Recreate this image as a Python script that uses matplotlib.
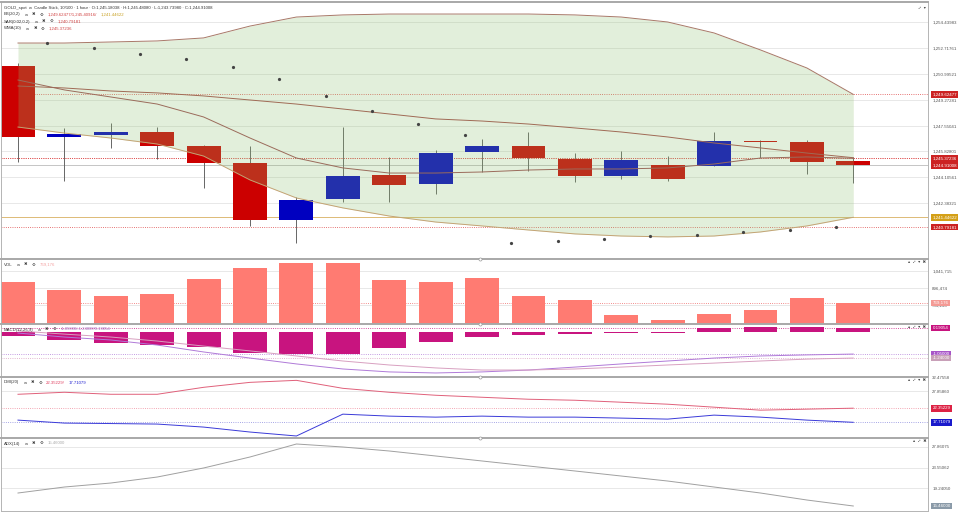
import numpy as np
import matplotlib
matplotlib.use("Agg")
import matplotlib.pyplot as plt
from matplotlib import font_manager, ft2font
from matplotlib.transforms import blended_transform_factory
from matplotlib.offsetbox import TextArea, HPacker, AnchoredOffsetbox
from matplotlib.lines import Line2D

# ---- GOLD spot, 1 hour candles ----
opens  = [1251.51, 1246.79, 1246.92, 1247.14, 1246.21, 1245.08, 1241.27, 1242.64, 1244.26, 1243.64,
          1245.77, 1246.19, 1245.33, 1244.19, 1244.93, 1244.88, 1246.54, 1246.48, 1245.18038]
highs  = [1251.71, 1247.39, 1247.74, 1247.47, 1246.26, 1246.19, 1242.82, 1247.43, 1245.48, 1245.92,
          1246.64, 1247.10, 1245.70, 1245.88, 1245.52, 1247.10, 1246.59, 1246.59, 1245.48080]
lows   = [1245.13, 1243.86, 1246.06, 1245.33, 1243.40, 1240.87, 1239.76, 1242.48, 1242.48, 1243.00,
          1244.48, 1244.55, 1243.81, 1243.97, 1243.86, 1244.86, 1245.37, 1244.33, 1243.73980]
closes = [1246.79, 1246.97, 1247.12, 1246.21, 1245.08, 1241.27, 1242.60, 1244.19, 1243.60, 1245.70,
          1246.19, 1245.37, 1244.17, 1245.24, 1243.97, 1246.54, 1246.44, 1245.14, 1244.91008]

bb_upper = [1253.04, 1253.04, 1253.11, 1253.18, 1253.38, 1254.17, 1254.77, 1254.91, 1254.97, 1254.97,
            1254.97, 1254.97, 1254.91, 1254.77, 1254.44, 1253.71, 1252.58, 1251.38, 1249.62477]
bb_mid   = [1250.18, 1250.05, 1249.85, 1249.72, 1249.52, 1249.25, 1248.98, 1248.65, 1248.32, 1247.99,
            1247.85, 1247.65, 1247.39, 1247.12, 1246.79, 1246.39, 1246.06, 1245.72, 1245.40916]
bb_lower = [1247.45, 1247.05, 1246.72, 1246.32, 1245.52, 1243.93, 1242.73, 1242.07, 1241.53, 1241.13,
            1240.87, 1240.60, 1240.34, 1240.20, 1240.14, 1240.20, 1240.47, 1240.87, 1241.44622]
wma10    = [1250.58, 1249.92, 1249.45, 1248.98, 1248.12, 1246.72, 1245.39, 1244.73, 1244.39, 1244.39,
            1244.46, 1244.59, 1244.66, 1244.66, 1244.73, 1244.99, 1245.39, 1245.46, 1245.37236]
# parabolic SAR, from the 2nd candle on
sar = [1253.04, 1252.71, 1252.31, 1251.98, 1251.45, 1250.65, 1249.52, 1248.52, 1247.65,
       1246.92, 1239.74, 1239.87, 1240.00, 1240.20, 1240.27, 1240.47, 1240.60, 1240.79181]

volume = [947731, 879379, 828115, 845203, 973363, 1067347, 1110067, 1110067, 964819, 947731,
          981907, 828115, 793939, 665779, 623059, 674323, 708499, 811027, 769176]

macd_hist   = [-0.19, -0.38, -0.51, -0.62, -0.70, -1.01, -1.05, -1.05, -0.76, -0.48,
               -0.24, -0.14, -0.10, -0.05, -0.05, 0.19, 0.24, 0.24, 0.19054]
macd_line   = [-0.05, -0.24, -0.38, -0.62, -0.95, -1.24, -1.52, -1.76, -1.90, -1.95,
               -1.90, -1.81, -1.67, -1.52, -1.38, -1.24, -1.14, -1.09, -1.05]
macd_signal = [0.05, -0.10, -0.24, -0.43, -0.67, -0.90, -1.14, -1.38, -1.57, -1.71,
               -1.81, -1.81, -1.76, -1.67, -1.57, -1.48, -1.38, -1.29, -1.24]

dmi_plus  = [26.92, 27.58, 26.92, 26.92, 29.21, 30.84, 31.50, 28.88, 27.58, 26.60,
             25.94, 25.29, 24.96, 24.31, 23.66, 22.68, 21.70, 22.03, 22.35229]
dmi_minus = [18.43, 17.45, 17.30, 17.13, 16.14, 14.51, 13.21, 20.39, 19.74, 19.41,
             19.74, 19.41, 19.41, 19.09, 18.76, 20.07, 19.41, 18.43, 17.71079]
adx = [18.19, 19.45, 20.29, 21.55, 23.45, 25.76, 28.49, 27.86, 27.02, 25.97,
       24.92, 23.87, 22.82, 21.76, 20.71, 19.45, 18.19, 16.72, 15.46]

price_ticks = [1254.43983, 1252.71761, 1250.99521, 1249.27281, 1247.55041, 1245.82801, 1244.10561, 1242.38321]
vol_ticks = [1041715, 896474, 751233]
dmi_ticks = [32.47558, 27.85860]
adx_ticks = [27.86075, 23.55062, 19.24050]


def family_with(ch):
    """first installed family that has a glyph for ch (for the little UI icons)."""
    for f in font_manager.fontManager.ttflist:
        try:
            if ord(ch) in ft2font.FT2Font(f.fname).get_charmap():
                return f.name
        except Exception:
            pass
    return None


EXPAND = "⤢"
extra = family_with(EXPAND)
plt.rcParams["font.family"] = ["Liberation Sans", "DejaVu Sans"] + ([extra] if extra else [])
if extra is None:
    EXPAND = "↗"

BEAR, BULL = "#cc0000", "#0000c0"
TAGRED, GOLD = "#cc2222", "#d4a017"
GRID = "#e4e4e4"
FS_HEAD, FS_AX = 3.1, 3.2
SAR_SHIFT = -0.37

W, H = 959, 521
fig = plt.figure(figsize=(W / 100, H / 100), dpi=100)
x = np.arange(len(opens))
XL = (-0.366, 19.61)


def panel(top_px, bot_px):
    ax = fig.add_axes([1 / W, 1 - bot_px / H, 927 / W, (bot_px - top_px) / H])
    ax.set_xlim(*XL)
    ax.set_xticks([])
    ax.yaxis.tick_right()
    ax.tick_params(axis="y", length=0, labelsize=FS_AX, labelcolor="#555555", pad=3)
    for s in ax.spines.values():
        s.set_color("#b4b4b4"); s.set_linewidth(0.7)
    ax.spines["top"].set_linewidth(1.4); ax.spines["top"].set_color("#a8a8a8")
    ax.grid(axis="y", color=GRID, lw=0.6)
    ax.set_axisbelow(True)
    return ax


def tag(ax, value, text, fc, tc="white"):
    tr = blended_transform_factory(ax.transAxes, ax.transData)
    ax.annotate(text, xy=(1, value), xycoords=tr, xytext=(3.2, 0), textcoords="offset points",
                ha="left", va="center", fontsize=FS_AX, color=tc, annotation_clip=False,
                bbox=dict(boxstyle="square,pad=0.3", fc=fc, ec="none"))


def header(ax, y_px, parts, icons=True):
    ax_h = ax.get_position().height * H
    boxes = []
    for i, (txt, col) in enumerate(parts):
        boxes.append(TextArea(txt, textprops=dict(fontsize=FS_HEAD, color=col)))
        if i == 0 and icons:
            for ic in ["∞", "✖", "⚙"]:
                boxes.append(TextArea(ic, textprops=dict(fontsize=FS_HEAD, color="#333333")))
    pack = HPacker(children=boxes, align="baseline", pad=0, sep=3.0)
    ab = AnchoredOffsetbox(loc="upper left", child=pack, pad=0, borderpad=0, frameon=False,
                           bbox_to_anchor=(3 / 927, 1 - y_px / ax_h), bbox_transform=ax.transAxes)
    ax.add_artist(ab)


def corner_icons(ax, icons):
    ax.text(0.998, 0.985, "  ".join(icons), transform=ax.transAxes, ha="right", va="top",
            fontsize=FS_HEAD, color="#444444")


# ---- main price panel ----
ax = panel(2, 259)
ax.set_ylim(1238.67, 1255.77)
ax.set_yticks(price_ticks)
ax.set_yticklabels([f"{v:,.5f}" for v in price_ticks])
o, h, l, c = map(np.array, (opens, highs, lows, closes))
cols = np.where(c >= o, BULL, BEAR)
ax.vlines(x, l, h, color="#666666", lw=0.7, zorder=2)
ax.bar(x, np.maximum(np.abs(c - o), 0.04), bottom=np.minimum(o, c), width=0.73,
       color=cols, zorder=2.5)
ax.fill_between(x, bb_lower, bb_upper, color="#8fc170", alpha=0.25, lw=0, zorder=3)
ax.plot(x, bb_upper, color="#a87868", lw=0.7, zorder=4)
ax.plot(x, bb_mid, color="#a06a55", lw=0.7, zorder=4)
ax.plot(x, bb_lower, color="#c4a374", lw=0.7, zorder=4)
ax.plot(x, wma10, color="#9b6b5b", lw=0.7, zorder=4)
ax.plot(x[1:] + SAR_SHIFT, sar, ls="none", marker="o", ms=1.3, color="#444444", zorder=5)
for v, col, ls in [(bb_upper[-1], "#dd4444", ":"), (bb_mid[-1], "#dd4444", ":"),
                   (wma10[-1], "#dd4444", ":"), (closes[-1], "#bbbbbb", "-"),
                   (bb_lower[-1], "#d8b060", "-"), (sar[-1], "#dd4444", ":")]:
    ax.axhline(v, color=col, ls=ls, lw=0.6, zorder=1)
tag(ax, bb_upper[-1], f"{bb_upper[-1]:,.5f}", TAGRED)
tag(ax, wma10[-1], f"{wma10[-1]:,.5f}", TAGRED)
tag(ax, closes[-1], f"{closes[-1]:,.5f}", TAGRED)
tag(ax, bb_lower[-1], f"{bb_lower[-1]:,.5f}", GOLD)
tag(ax, sar[-1], f"{sar[-1]:,.5f}", TAGRED)
header(ax, 3.5, [(f"GOLD_spot  ∞  Candle Stick, 10/100 · 1 hour · O:{opens[-1]:,.5f} · "
                  f"H:{highs[-1]:,.5f} · L:{lows[-1]:,.5f} · C:{closes[-1]:,.5f}", "#333333")], icons=False)
header(ax, 10.5, [("BB(20,2)", "#333333"),
                  (f"{bb_upper[-1]:,.5f}/{bb_mid[-1]:,.5f}/", "#d04040"),
                  (f"{bb_lower[-1]:,.5f}", "#c8a020")])
header(ax, 17.5, [("SAR(0.02,0.2)", "#333333"), (f"{sar[-1]:,.5f}", "#d04040")])
header(ax, 24.5, [("WMA(10)", "#333333"), (f"{wma10[-1]:,.5f}", "#d04040")])
corner_icons(ax, [EXPAND, "▾"])

# ---- volume ----
ax = panel(259, 324)
ax.set_ylim(588883, 1144243)
ax.set_yticks(vol_ticks)
ax.set_yticklabels([f"{v:,}" for v in vol_ticks])
ax.bar(x, volume, width=0.73, color="#ff7b72", zorder=2)
ax.axhline(volume[-1], color="#ee6666", ls=":", lw=0.6, zorder=1)
tag(ax, volume[-1], f"{volume[-1]:,}", "#f49a94")
header(ax, 3.5, [("VOL", "#333333"), (f"{volume[-1]:,}", "#f4a0a0")])
corner_icons(ax, ["▴", EXPAND, "▾", "✖"])

# ---- MACD ----
ax = panel(324, 377)
ax.set_ylim(-2.142, 0.381)
ax.set_yticks([])
ax.bar(x, macd_hist, width=0.73, color="#c8147f", zorder=2)
ax.plot(x, macd_line, color="#b07ad8", lw=0.7, zorder=3)
ax.plot(x, macd_signal, color="#d8a0c0", lw=0.7, zorder=3)
ax.axhline(macd_hist[-1], color="#c8147f", ls=":", lw=0.6, zorder=1)
ax.axhline(macd_line[-1], color="#b07ad8", ls=":", lw=0.6, zorder=1)
ax.axhline(macd_signal[-1], color="#d8a0c0", ls=":", lw=0.6, zorder=1)
tag(ax, macd_hist[-1], f"{macd_hist[-1]:.5f}", "#c8147f")
tag(ax, macd_line[-1], f"{macd_line[-1]:.5f}", "#a855c8")
tag(ax, macd_signal[-1], f"{macd_signal[-1]:.5f}", "#c8a0b8")
header(ax, 3.5, [("MACD(12,26,9)", "#333333"),
                 (f"{macd_line[-1]:.5f}/{macd_signal[-1]:.5f}/{macd_hist[-1]:.5f}", "#a070c0")])
corner_icons(ax, ["▴", EXPAND, "▾", "✖"])

# ---- DMI ----
ax = panel(377, 438)
ax.set_ylim(12.55, 32.60)
ax.set_yticks(dmi_ticks)
ax.set_yticklabels([f"{v:.5f}" for v in dmi_ticks])
ax.plot(x, dmi_plus, color="#e0607a", lw=0.7, zorder=3)
ax.plot(x, dmi_minus, color="#3a3ad8", lw=0.7, zorder=3)
ax.axhline(dmi_plus[-1], color="#ee8899", ls=":", lw=0.6, zorder=1)
ax.axhline(dmi_minus[-1], color="#8888dd", ls=":", lw=0.6, zorder=1)
tag(ax, dmi_plus[-1], f"{dmi_plus[-1]:.5f}", "#dd2244")
tag(ax, dmi_minus[-1], f"{dmi_minus[-1]:.5f}", "#1a1acc")
header(ax, 3.5, [("DMI(20)", "#333333"), (f"{dmi_plus[-1]:.5f}/", "#e04060"),
                 (f"{dmi_minus[-1]:.5f}", "#2020d0")])
corner_icons(ax, ["▴", EXPAND, "▾", "✖"])

# ---- ADX ----
ax = panel(438, 511)
ax.set_ylim(14.41, 29.75)
ax.set_yticks(adx_ticks)
ax.set_yticklabels([f"{v:.5f}" for v in adx_ticks])
ax.plot(x, adx, color="#a0a0a0", lw=0.7, zorder=3)
tag(ax, adx[-1], f"{adx[-1]:.5f}", "#8a9aa8")
header(ax, 3.5, [("ADX(14)", "#333333"), (f"{adx[-1]:.5f}", "#aaaaaa")])
corner_icons(ax, ["▴", EXPAND, "✖"])

# little drag handles on the panel separators
for ypx in (259, 324, 377, 438):
    fig.add_artist(Line2D([480 / W], [1 - ypx / H], marker="o", ms=2.2, mfc="white",
                          mec="#999999", mew=0.5, transform=fig.transFigure))

fig.savefig("out.png", dpi=100, facecolor="white")
